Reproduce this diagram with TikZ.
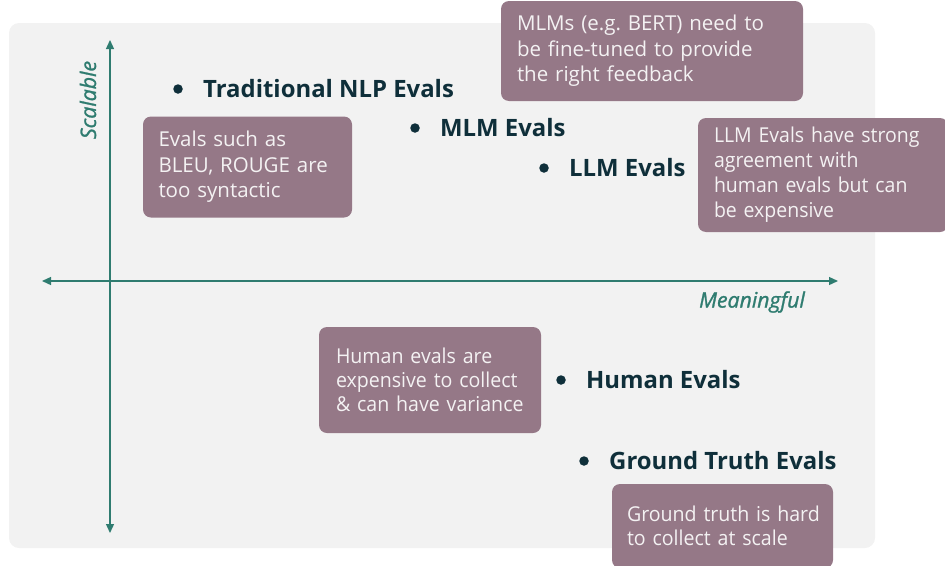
\documentclass[tikz,border=0pt]{standalone}
\usepackage{fontspec}
\setmainfont{Open Sans}
\newfontfamily\axisfont{Open Sans}[ItalicFeatures={FakeBold=1.2}]
\newfontfamily\condfont{Open Sans}[FakeStretch=0.955]
\newfontfamily\semicond{Open Sans}[FakeStretch=0.95]
\usetikzlibrary{arrows.meta}
\definecolor{bgc}{HTML}{F2F2F2}
\definecolor{boxc}{HTML}{957887}
\definecolor{axisc}{HTML}{2F7C70}
\definecolor{labc}{HTML}{0F2F3A}
\definecolor{boxtext}{HTML}{F4F2F3}
\tikzset{
  x=1pt, y=-1pt,
  axisline/.style={draw=axisc, line width=1.3pt, {Triangle[length=9pt,width=8pt]}-{Triangle[length=9pt,width=8pt]}},
  axislabel/.style={text=axisc, font=\fontsize{21.3}{24}\axisfont\itshape, inner sep=0pt},
  dotmark/.style={circle, fill=labc, inner sep=0pt, minimum size=9.5pt},
  evallabel/.style={text=labc, font=\fontsize{23.9}{28}\selectfont\bfseries, anchor=west, inner sep=0pt},
  notebox/.style={fill=boxc, rounded corners=8pt, inner sep=0pt, align=left, text=boxtext,
    font=\fontsize{20.5}{25.5}\selectfont},
  condbox/.style={notebox, font=\fontsize{20.5}{24}\condfont},
  semibox/.style={notebox, font=\fontsize{20.5}{25}\semicond},
}
\begin{document}
\begin{tikzpicture}
\useasboundingbox (0,0) rectangle (945,565);
\node[fill=bgc, rounded corners=10pt, minimum width=866pt, minimum height=525pt, inner sep=0pt] (bg) at (442,285.5) {};
% axes
\coordinate (vtop) at (110,40);
\coordinate (vbot) at (110,533);
\coordinate (hleft) at (42,281);
\coordinate (hright) at (838,281);
\draw[axisline] (vtop) -- (vbot);
\draw[axisline] (hleft) -- (hright);
\node[axislabel, rotate=90] (scal) at (88,100) {Scalable};
\node[axislabel] (mean) at (752,302) {Meaningful};
% notes
\node[notebox, minimum width=209pt, minimum height=101pt, text width=178pt] (n1) at (247.5,167)
  {\mbox{Evals such as}\\\mbox{BLEU, ROUGE are}\\\mbox{too syntactic}};
\node[notebox, minimum width=302pt, minimum height=100pt, text width=270pt] (n2) at (652,51)
  {\mbox{MLMs (e.g.\ BERT) need to}\\\mbox{be fine-tuned to provide}\\\mbox{the right feedback}};
\node[semibox, minimum width=250pt, minimum height=114pt, text width=218pt] (n3) at (823,175)
  {\mbox{LLM Evals have strong}\\\mbox{agreement with}\\\mbox{human evals but can}\\\mbox{be expensive}};
\node[condbox, minimum width=222pt, minimum height=106pt, text width=188pt] (n4) at (430,380)
  {\mbox{Human evals are}\\\mbox{expensive to collect}\\\mbox{\& can have variance}};
\node[condbox, minimum width=221pt, minimum height=84pt, text width=191pt] (n5) at (722.5,526)
  {\mbox{Ground truth is hard}\\\mbox{to collect at scale}};
% eval points
\node[dotmark] (d1) at (178,89) {};
\node[evallabel] (l1) at (203,89) {Traditional NLP Evals};
\node[dotmark] (d2) at (415,128) {};
\node[evallabel] (l2) at (440,128) {MLM Evals};
\node[dotmark] (d3) at (544,168) {};
\node[evallabel] (l3) at (569,168) {LLM Evals};
\node[dotmark] (d4) at (561,380) {};
\node[evallabel] (l4) at (586,380) {Human Evals};
\node[dotmark] (d5) at (584,461) {};
\node[evallabel] (l5) at (609,461) {Ground Truth Evals};
\end{tikzpicture}
\end{document}
